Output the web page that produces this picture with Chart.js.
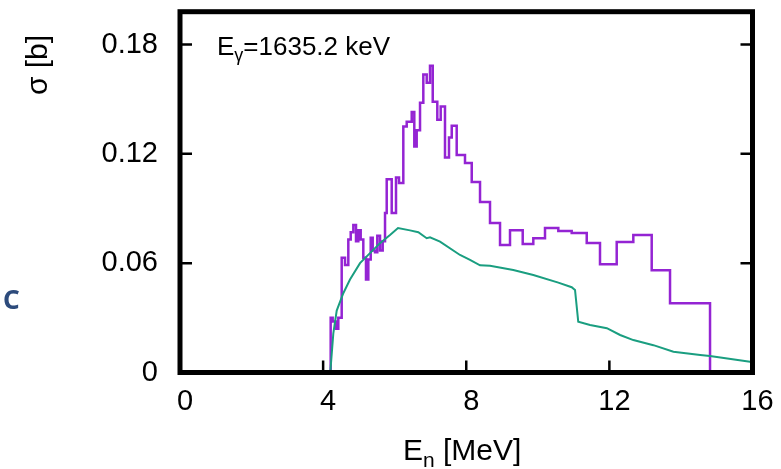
<!DOCTYPE html>
<html>
<head>
<meta charset="utf-8">
<script src="https://cdn.jsdelivr.net/npm/chart.js@4.4.1/dist/chart.umd.min.js"></script>
<style>
    html, body { margin: 0; padding: 0; background: #fff; }
    #grafico { display: block; }
</style>
</head>
<body>
<canvas id="grafico" width="781" height="469"></canvas>
<script>
// eixos
const xTicks = [0, 4, 8, 12, 16]
const xTickLabels = ['0', '4', '8', '12', '16']
const yTicks = [0, 0.06, 0.12, 0.18]
const yTickLabels = ['0', '0.06', '0.12', '0.18']

// histograma (roxo): bordas dos bins em MeV e sigma em b
const binEdges = [
    4.211, 4.267, 4.360, 4.424, 4.519, 4.612, 4.704, 4.771, 4.844, 4.919,
    4.983, 5.050, 5.123, 5.198, 5.263, 5.330, 5.386, 5.450, 5.514, 5.590,
    5.665, 5.730, 5.777, 5.917, 6.037, 6.121, 6.241, 6.336, 6.476, 6.548,
    6.615, 6.708, 6.800, 6.895, 6.987, 7.063, 7.191, 7.286, 7.406, 7.518,
    7.594, 7.733, 7.965, 8.153, 8.385, 8.664, 8.944, 9.223, 9.578, 9.874,
    10.201, 10.573, 10.947, 11.367, 11.738, 12.205, 12.669, 13.183, 13.695, 14.254,
    14.813
]
const sigmaHist = [
    0.021, 0.030, 0.028, 0.024, 0.030, 0.063, 0.059, 0.073, 0.077, 0.081,
    0.072, 0.078, 0.073, 0.063, 0.051, 0.062, 0.074, 0.067, 0.066, 0.075,
    0.067, 0.072, 0.0875, 0.106, 0.0875, 0.107, 0.104, 0.135, 0.1376, 0.143,
    0.124, 0.133, 0.148, 0.1635, 0.159, 0.1684, 0.1486, 0.1387, 0.146, 0.118,
    0.129, 0.1354, 0.1194, 0.115, 0.1046, 0.0936, 0.082, 0.070, 0.078, 0.0705,
    0.0737, 0.0793, 0.0776, 0.0765, 0.071, 0.0594, 0.0716, 0.0754, 0.0561, 0.038
]

// curva (verde)
const enCurve = [
    4.20, 4.285, 4.38, 4.564, 4.751, 5.031, 5.310, 5.590, 5.869, 6.093,
    6.428, 6.66, 6.895, 6.987, 7.267, 7.826, 8.105, 8.385, 8.664, 9.315,
    9.874, 10.573, 10.947, 11.04, 11.13, 11.46, 11.93, 12.30, 12.67, 13.23,
    13.79, 14.54, 14.81, 15.93, 16.0
]
const sigmaCurve = [
    0, 0.0215, 0.034, 0.0435, 0.051, 0.060, 0.0655, 0.071, 0.0755, 0.0793,
    0.078, 0.077, 0.0737, 0.0742, 0.0718, 0.0645, 0.0618, 0.0588, 0.0586, 0.0563,
    0.0535, 0.0493, 0.0468, 0.0453, 0.0279, 0.0261, 0.0243, 0.0206, 0.0178, 0.015,
    0.0114, 0.0096, 0.009, 0.0059, 0.0057
]

const fonte = "'Liberation Sans', Arial, sans-serif"

function montarHistograma() {
    const pontos = [{ x: binEdges[0], y: 0 }]
    for (let i = 0; i < sigmaHist.length; i++) {
        pontos.push({ x: binEdges[i], y: sigmaHist[i] })
    }
    const ultimo = binEdges[binEdges.length - 1]
    pontos.push({ x: ultimo, y: sigmaHist[sigmaHist.length - 1] })
    pontos.push({ x: ultimo, y: 0 })
    return pontos
}

function montarCurva() {
    const pontos = []
    for (let i = 0; i < enCurve.length; i++) {
        pontos.push({ x: enCurve[i], y: sigmaCurve[i] })
    }
    return pontos
}

// moldura, ticks para dentro e textos extras
const moldura = {
    id: 'moldura',
    afterDatasetsDraw(chart) {
        const ctx = chart.ctx
        const a = chart.chartArea
        const x = chart.scales.x
        const y = chart.scales.y
        ctx.save()
        ctx.strokeStyle = '#000'
        ctx.lineWidth = 2.5
        ctx.beginPath()
        yTicks.forEach(v => {
            if (v === 0) return
            const py = y.getPixelForValue(v)
            ctx.moveTo(a.left, py); ctx.lineTo(a.left + 12, py)
            ctx.moveTo(a.right, py); ctx.lineTo(a.right - 12, py)
        })
        xTicks.forEach(v => {
            if (v === 0 || v === 16) return
            const px = x.getPixelForValue(v)
            ctx.moveTo(px, a.bottom); ctx.lineTo(px, a.bottom - 12)
        })
        ctx.stroke()
        ctx.lineWidth = 5
        ctx.strokeRect(a.left, a.top, a.right - a.left, a.bottom - a.top)

        ctx.fillStyle = '#000'
        ctx.textBaseline = 'alphabetic'
        ctx.textAlign = 'left'

        // E_gamma = 1635.2 keV
        ctx.font = '26px ' + fonte
        ctx.fillText('E', 217, 55)
        let px = 217 + ctx.measureText('E').width
        ctx.font = '18px ' + fonte
        ctx.fillText('γ', px, 61)
        px += ctx.measureText('γ').width
        ctx.font = '26px ' + fonte
        ctx.fillText('=1635.2 keV', px, 55)

        // titulo eixo x
        ctx.font = '30px ' + fonte
        ctx.fillText('E', 403, 460)
        px = 403 + ctx.measureText('E').width
        ctx.font = '21px ' + fonte
        ctx.fillText('n', px, 467)
        px += ctx.measureText('n').width
        ctx.font = '30px ' + fonte
        ctx.fillText(' [MeV]', px, 460)

        // titulo eixo y
        ctx.save()
        ctx.translate(47, 65)
        ctx.rotate(-Math.PI / 2)
        ctx.textAlign = 'center'
        ctx.font = '30px ' + fonte
        ctx.fillText('σ [b]', 0, 0)
        ctx.restore()

        // letra solta na margem
        ctx.fillStyle = '#2d4b7c'
        ctx.font = "bold 26px 'Noto Sans', sans-serif"
        ctx.fillText('C', 3, 309)
        ctx.restore()
    }
}

function carregarGrafico() {
    const grafico = document.getElementById('grafico')
    new Chart(grafico, {
        type: 'line',
        data: {
            datasets: [{
                data: montarCurva(),
                borderColor: '#1a9e80',
                borderWidth: 2,
                pointRadius: 0,
                tension: 0,
                fill: false,
                order: 0
            }, {
                data: montarHistograma(),
                borderColor: '#9424d3',
                borderWidth: 2.5,
                pointRadius: 0,
                stepped: 'after',
                fill: false,
                order: 1
            }]
        },
        options: {
            responsive: false,
            animation: false,
            devicePixelRatio: 1,
            layout: {
                padding: { left: 0, top: 11.7, right: 28.5, bottom: 0 }
            },
            scales: {
                x: {
                    type: 'linear',
                    min: 0,
                    max: 16,
                    afterBuildTicks: (scale) => {
                        scale.ticks = xTicks.map(v => ({ value: v }))
                    },
                    afterFit: (scale) => {
                        scale.height = 469 - 372.5
                        scale.paddingLeft = 0
                        scale.paddingRight = 0
                    },
                    grid: { display: false, drawTicks: false },
                    border: { display: false },
                    ticks: {
                        color: '#000',
                        padding: 12,
                        labelOffset: 5,
                        maxRotation: 0,
                        font: { size: 29, family: fonte },
                        callback: (v, i) => xTickLabels[i]
                    }
                },
                y: {
                    type: 'linear',
                    min: 0,
                    max: 0.198,
                    afterBuildTicks: (scale) => {
                        scale.ticks = yTicks.map(v => ({ value: v }))
                    },
                    afterFit: (scale) => {
                        scale.width = 180
                        scale.paddingTop = 0
                        scale.paddingBottom = 0
                    },
                    grid: { display: false, drawTicks: false },
                    border: { display: false },
                    ticks: {
                        color: '#000',
                        padding: 22,
                        font: { size: 29, family: fonte },
                        callback: (v, i) => yTickLabels[i]
                    }
                }
            },
            plugins: {
                legend: { display: false },
                tooltip: { enabled: false }
            }
        },
        plugins: [moldura]
    })
}

window.onload = () => {
    carregarGrafico()
}
</script>
</body>
</html>
